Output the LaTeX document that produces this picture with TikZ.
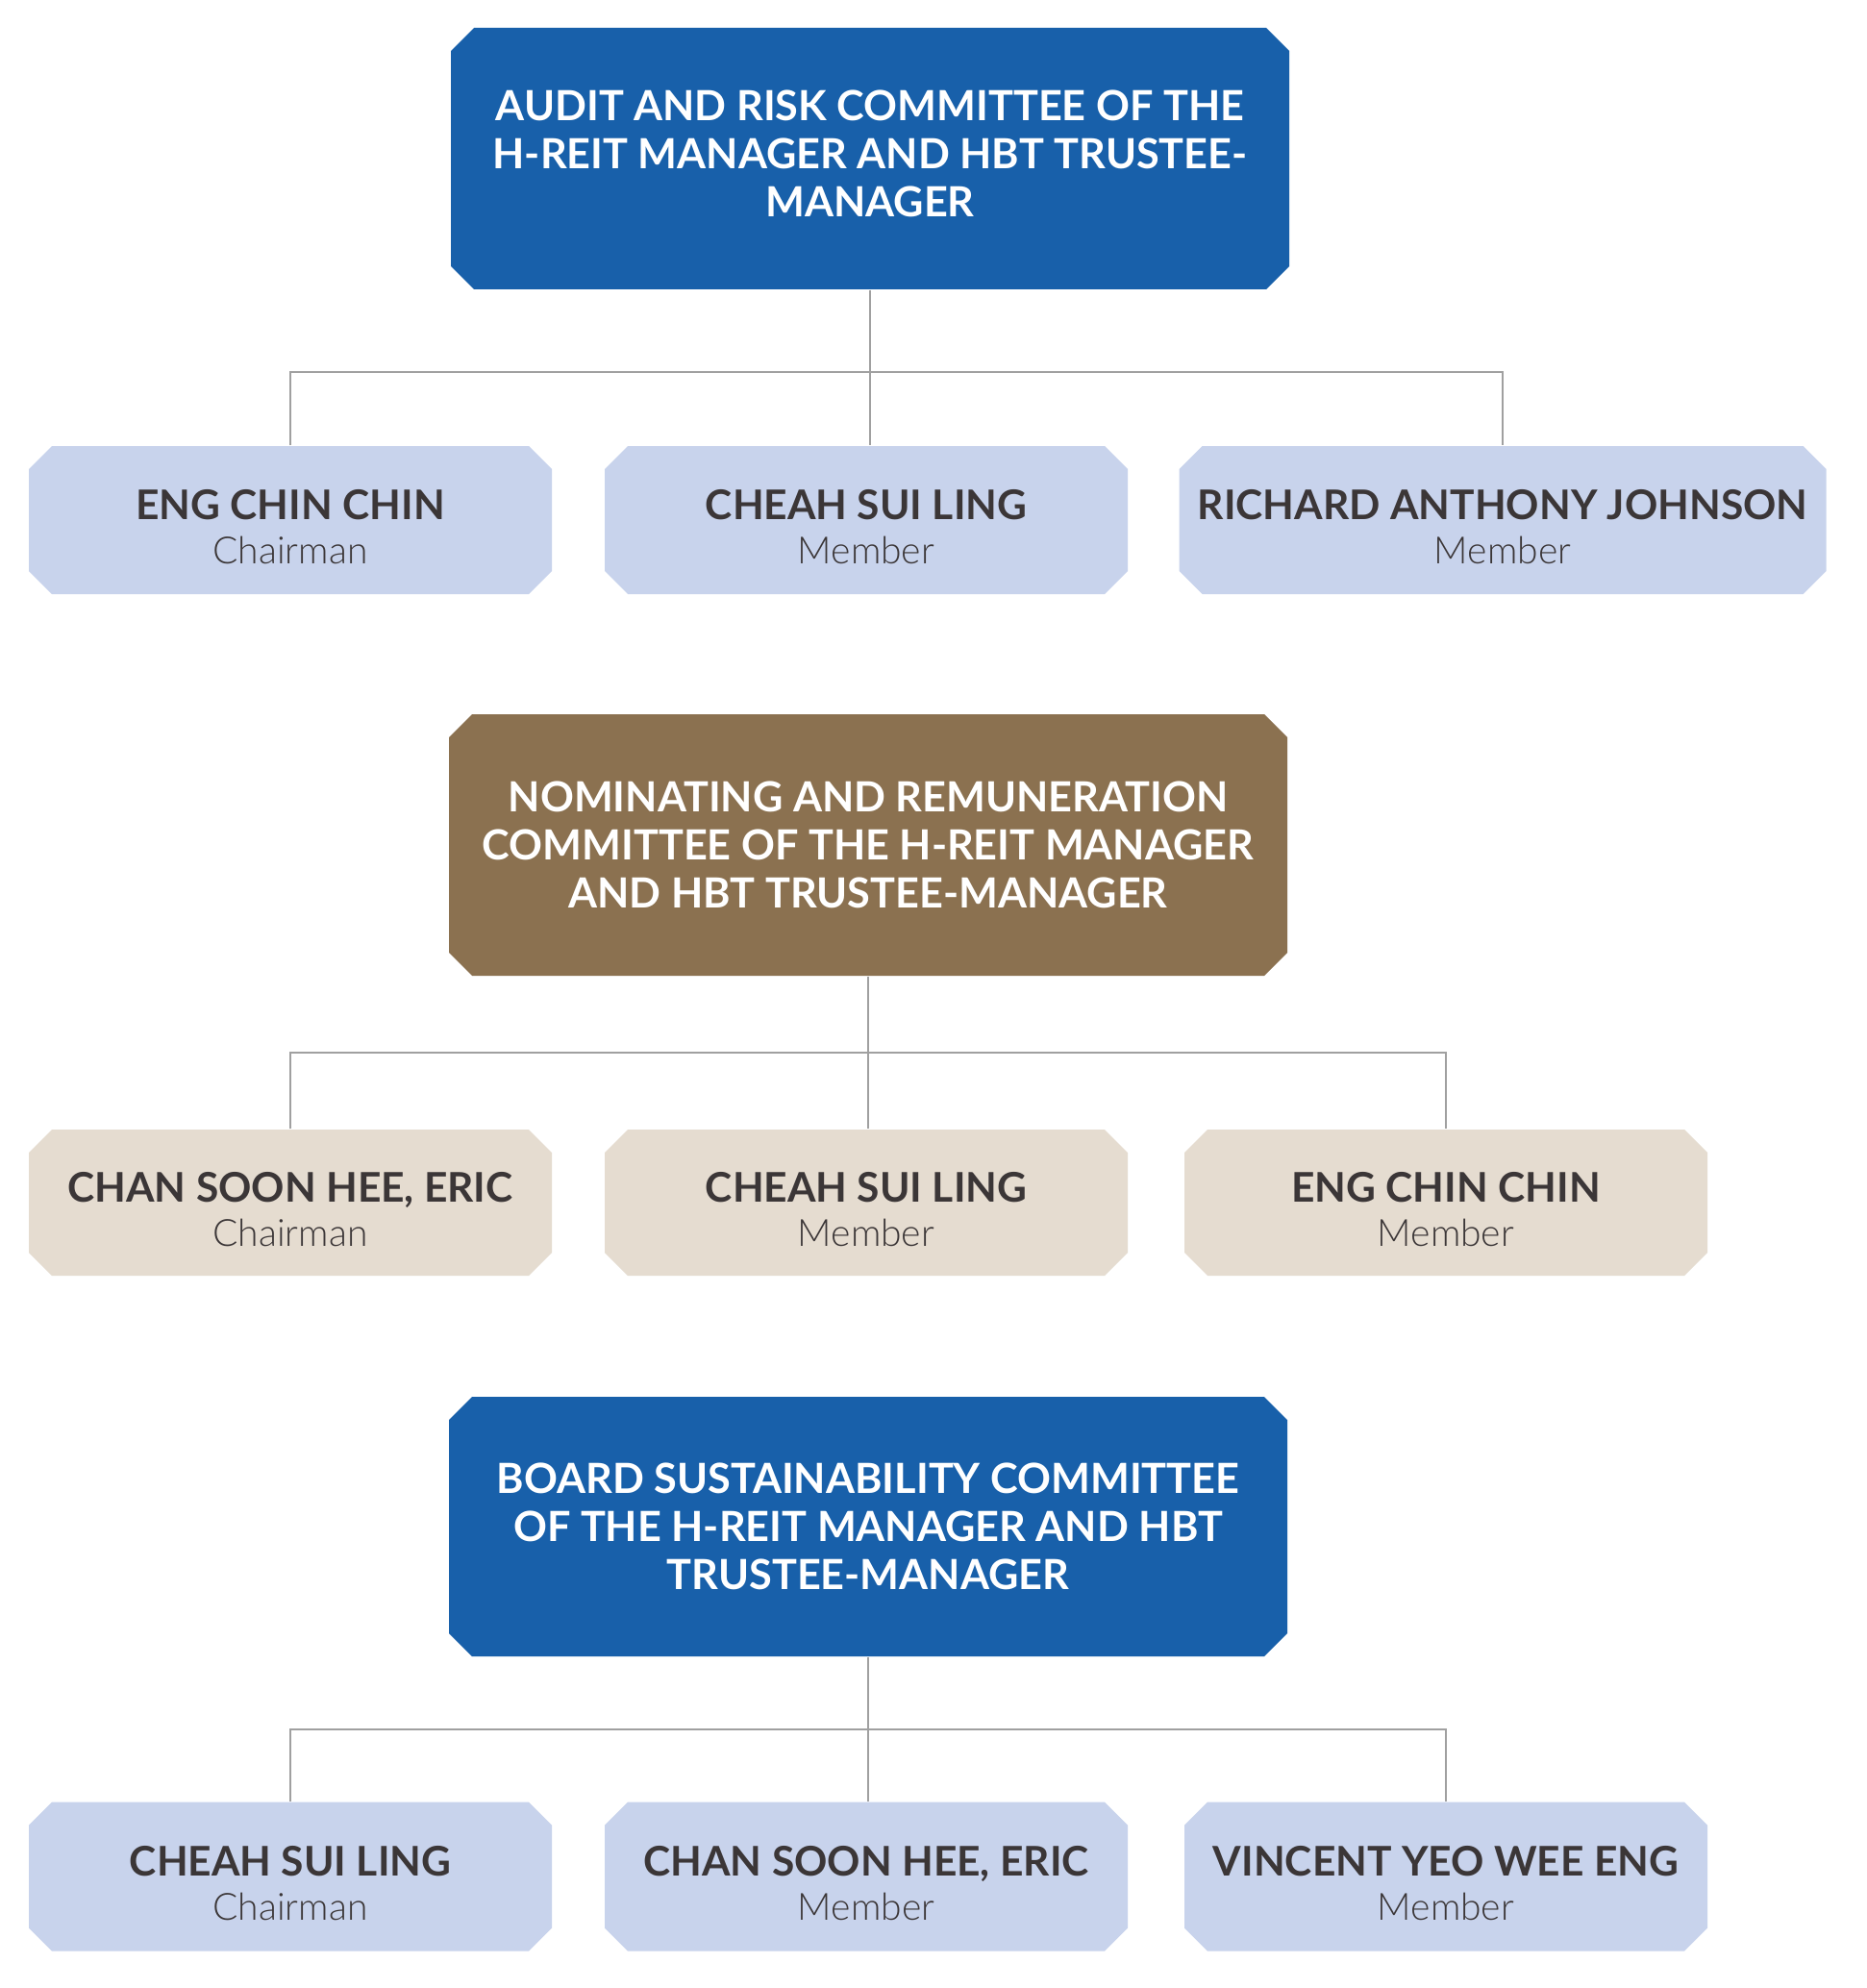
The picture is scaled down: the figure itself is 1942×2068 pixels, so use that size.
\documentclass[tikz,border=0pt]{standalone}
\usepackage{fontspec}
\setmainfont{Lato}
\newfontfamily\lightfont{Lato Light}
\usetikzlibrary{positioning, calc, shapes.misc}
\definecolor{Navy}{HTML}{1860AA}
\definecolor{Bronze}{HTML}{8B7150}
\definecolor{Powder}{HTML}{C8D3EC}
\definecolor{Sand}{HTML}{E5DCD0}
\definecolor{Ink}{HTML}{3B3637}
\definecolor{Wire}{HTML}{A0A0A0}
\tikzset{
    headbox/.style={chamfered rectangle, chamfered rectangle xsep=1.2mm, chamfered rectangle ysep=1.2mm, inner sep=0pt, fill=#1, text=white, align=center, minimum width=87.2mm, minimum height=27.2mm, font=\bfseries\fontsize{12.3}{14.2}\selectfont},
    namebox/.style={chamfered rectangle, chamfered rectangle xsep=1.2mm, chamfered rectangle ysep=1.2mm, inner sep=0pt, fill=#1, text=Ink, align=center, minimum width=54.4mm, minimum height=15.4mm, font=\fontsize{12.1}{13.2}\selectfont},
    link/.style={draw=Wire, line width=0.6pt},
}
\newcommand{\member}[2]{{\bfseries\rule{0pt}{4.5mm}#1}\\{\lightfont\fontsize{11.1}{13.2}\selectfont #2}}

\begin{document}
\begin{tikzpicture}[x=0.1mm, y=-0.1mm]
    \fill[white] (0,0) rectangle (1942,2068);
    \useasboundingbox (0,0) rectangle (1942,2068);

    % Audit and risk committee
    \node[headbox=Navy] (arc) at (905,165) {AUDIT AND RISK COMMITTEE OF THE\\H-REIT MANAGER AND HBT TRUSTEE-\\MANAGER\rule[-1mm]{0pt}{0pt}};
    \node[namebox=Powder] (a1) at (302,541) {\member{ENG CHIN CHIN}{Chairman}};
    \node[namebox=Powder] (a2) at (901,541) {\member{CHEAH SUI LING}{Member}};
    \node[namebox=Powder, minimum width=67.3mm] (a3) at (1563,541) {\member{RICHARD ANTHONY JOHNSON}{Member}};
    \coordinate (bus1) at ($(arc.south)!0.53!(arc.south |- a2.north)$);
    \draw[link] (arc.south) -- (arc.south |- a2.north);
    \draw[link] (a1.north) |- (bus1) -| (a3.north);

    % Nominating and remuneration committee
    \node[headbox=Bronze] (nrc) at (903,879) {NOMINATING AND REMUNERATION\\COMMITTEE OF THE H-REIT MANAGER\\AND HBT TRUSTEE-MANAGER};
    \node[namebox=Sand, minimum height=15.2mm] (b1) at (302,1251) {\member{CHAN SOON HEE, ERIC}{Chairman}};
    \node[namebox=Sand, minimum height=15.2mm] (b2) at (901,1251) {\member{CHEAH SUI LING}{Member}};
    \node[namebox=Sand, minimum height=15.2mm] (b3) at (1504,1251) {\member{ENG CHIN CHIN}{Member}};
    \coordinate (bus2) at ($(nrc.south)!0.5!(nrc.south |- b2.north)$);
    \draw[link] (nrc.south) -- (nrc.south |- b2.north);
    \draw[link] (b1.north) |- (bus2) -| (b3.north);

    % Board sustainability committee
    \node[headbox=Navy, minimum height=27mm] (bsc) at (903,1588) {BOARD SUSTAINABILITY COMMITTEE\\OF THE H-REIT MANAGER AND HBT\\TRUSTEE-MANAGER};
    \node[namebox=Powder, minimum height=15.5mm] (c1) at (302,1952) {\member{CHEAH SUI LING}{Chairman}};
    \node[namebox=Powder, minimum height=15.5mm] (c2) at (901,1952) {\member{CHAN SOON HEE, ERIC}{Member}};
    \node[namebox=Powder, minimum height=15.5mm] (c3) at (1504,1952) {\member{VINCENT YEO WEE ENG}{Member}};
    \coordinate (bus3) at ($(bsc.south)!0.5!(bsc.south |- c2.north)$);
    \draw[link] (bsc.south) -- (bsc.south |- c2.north);
    \draw[link] (c1.north) |- (bus3) -| (c3.north);
\end{tikzpicture}
\end{document}
